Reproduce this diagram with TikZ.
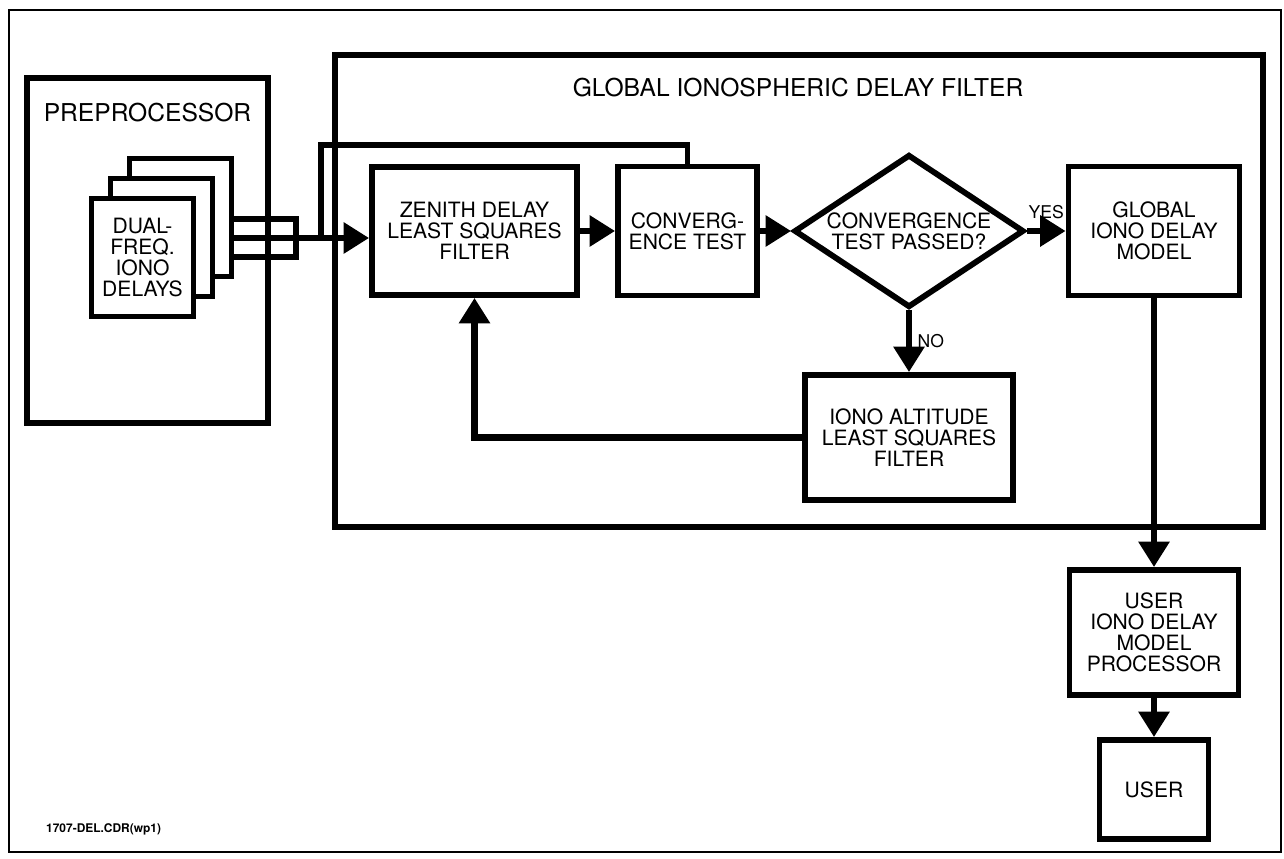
\documentclass[tikz,border=0pt]{standalone}
\usepackage{fontspec}
\setmainfont{TeX Gyre Heros}
\usetikzlibrary{shapes.geometric,arrows.meta,positioning}

\begin{document}
\begin{tikzpicture}[
  every node/.style={font=\fontsize{12}{12}\selectfont},
  box/.style={draw,rectangle,line width=3.3pt,align=center,inner sep=2pt},
  area/.style={draw,rectangle,line width=3.3pt},
  stackbox/.style={draw,rectangle,line width=3.3pt,fill=white,minimum width=2.04cm,minimum height=2.36cm,align=center},
  decision/.style={draw,diamond,aspect=1.5,inner sep=0pt,line width=3.3pt,align=center},
  flow/.style={line width=3.8pt,-{Triangle[length=14.5pt,width=17pt]}},
  wire/.style={line width=3pt},
  title/.style={font=\fontsize{14}{14}\selectfont},
  tag/.style={font=\fontsize{10}{10}\selectfont,inner sep=2pt},
]
\useasboundingbox (0,0) rectangle (25.68,-17.18);
\draw[line width=1.2pt] (0.18,-0.20) rectangle (25.62,-17.04);

% Preprocessor (left, center at x=2.95)
\node[area,minimum width=4.82cm,minimum height=6.9cm] (pre) at (2.95,-5.01) {};
\node[title] (pretitle) at (2.95,-2.26) {PREPROCESSOR};
\node[stackbox] (back) at (3.61,-4.35) {};
\node[stackbox] (mid) at (3.23,-4.75) {};
\node[stackbox] (front) at (2.85,-5.15) {DUAL-\\FREQ.\\IONO\\DELAYS};

% Global Ionospheric Delay Filter (middle, center at x=16)
\node[area,minimum width=18.56cm,minimum height=9.44cm] (gf) at (15.98,-5.82) {};
\node[title] (gftitle) at (15.96,-1.76) {GLOBAL IONOSPHERIC DELAY FILTER};
\node[box,minimum width=4.10cm,minimum height=2.56cm] (zen) at (9.49,-4.62) {ZENITH DELAY\\LEAST SQUARES\\FILTER};
\node[box,minimum width=2.78cm,minimum height=2.58cm] (conv) at (13.75,-4.62) {CONVERG-\\ENCE TEST};
\node[decision,minimum width=4.6cm,minimum height=3.06cm] (dia) at (18.18,-4.62) {CONVERGENCE\\TEST PASSED?};
\node[box,minimum width=3.42cm,minimum height=2.58cm] (glob) at (23.08,-4.62) {GLOBAL\\IONO DELAY\\MODEL};
\node[box,minimum width=4.16cm,minimum height=2.5cm] (alt) at (18.18,-8.75) {IONO ALTITUDE\\LEAST SQUARES\\FILTER};

% User side (right, center at x=23.08)
\node[box,minimum width=3.38cm,minimum height=2.5cm] (uip) at (23.08,-12.65) {USER\\IONO DELAY\\MODEL\\PROCESSOR};
\node[box,minimum width=2.18cm,minimum height=1.98cm] (user) at (23.08,-15.79) {USER};

% connectors
\coordinate (bustop) at (5.92,-4.38);
\coordinate (busbot) at (5.92,-5.14);
\coordinate (in) at (5.92,-4.76);
\coordinate (fb) at (6.42,-2.90);
\draw[wire] (back.east |- bustop) -- (bustop) -- (busbot) -- (back.east |- busbot);
\draw[flow] (back.east |- in) -- (zen.west |- in);
\draw[wire] (conv.north) |- (fb) -- (fb |- in);
\draw[flow] (zen) -- (conv);
\draw[flow] (conv) -- (dia);
\draw[flow] (dia) -- node[tag,above=3pt] (yes) {YES} (glob);
\draw[flow] (dia) -- node[tag,right=1pt] (no) {NO} (alt);
\draw[flow] (alt.west) -| (zen.south);
\draw[flow] (glob) -- (uip);
\draw[flow] (uip) -- (user);

\node[font=\bfseries\fontsize{6.8}{7}\selectfont,anchor=west] (drawno) at (0.80,-16.58) {1707-DEL.CDR(wp1)};

\end{tikzpicture}
\end{document}
